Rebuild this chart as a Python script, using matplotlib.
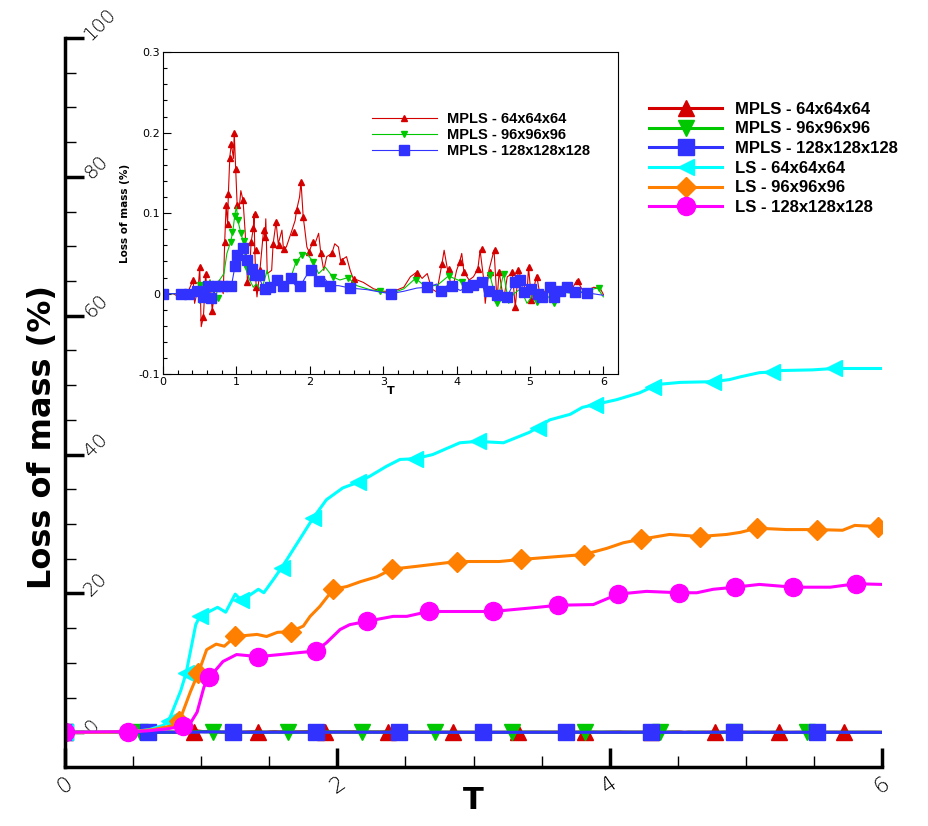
import matplotlib
matplotlib.use("Agg")
import matplotlib.pyplot as plt
from matplotlib.lines import Line2D
from matplotlib.ticker import MultipleLocator
from matplotlib.transforms import ScaledTranslation

# ---- MPLS loss of mass (%) vs T (shown in the inset, ~0 on the main axes)
mpls64_t = [0, 0.14, 0.25, 0.32, 0.41, 0.43, 0.48, 0.50, 0.52, 0.55, 0.58, 0.61, 0.64, 0.67,
            0.71, 0.77, 0.82, 0.84, 0.86, 0.88, 0.89, 0.91, 0.93, 0.96, 0.97, 0.99, 1.01, 1.04,
            1.06, 1.09, 1.12, 1.15, 1.18, 1.20, 1.23, 1.24, 1.25, 1.27, 1.28, 1.32, 1.37, 1.39,
            1.40, 1.42, 1.48, 1.50, 1.54, 1.57, 1.62, 1.64, 1.68, 1.75, 1.80, 1.82, 1.86, 1.88,
            1.91, 1.93, 1.96, 1.99, 2.04, 2.07, 2.12, 2.15, 2.19, 2.23, 2.30, 2.34, 2.39, 2.42,
            2.50, 2.55, 2.59, 2.73, 2.87, 3.00, 3.14, 3.28, 3.37, 3.46, 3.53, 3.60, 3.66, 3.73,
            3.80, 3.83, 3.87, 3.94, 4.00, 4.04, 4.07, 4.10, 4.17, 4.23, 4.29, 4.32, 4.37, 4.39,
            4.44, 4.51, 4.55, 4.58, 4.64, 4.69, 4.76, 4.80, 4.84, 4.89, 4.96, 4.98, 5.02, 5.09,
            5.14, 5.23, 5.33, 5.42, 5.55, 5.64, 5.73, 5.87, 5.96, 6.00]
mpls64_loss = [0, 0, -0.006, -0.002, 0.017, -0.012, 0.008, 0.033, -0.041, -0.029, 0.025, -0.008,
               0.017, -0.021, 0.008, 0.017, 0, 0.064, 0.110, 0.087, 0.124, 0.170, 0.186, 0.168,
               0.200, 0.155, 0.110, 0.108, 0.128, 0.116, 0.075, 0.015, 0.029, 0.064, 0.081, 0.099,
               0.054, 0.006, -0.004, 0.029, 0.079, 0.070, 0.093, 0.025, 0.029, 0.062, 0.089, 0.062,
               0.079, 0.056, 0.058, 0.077, 0.091, 0.104, 0.120, 0.139, 0.095, 0.081, 0.058, 0.052,
               0.064, 0.062, 0.075, 0.050, 0.029, 0.046, 0.050, 0.062, 0.058, 0.041, 0.046, 0.029,
               0.019, 0.014, 0.006, 0.003, 0.003, 0.008, 0.021, 0.027, 0.019, 0.025, 0.006, 0.002,
               0.037, 0.054, 0.033, 0.004, 0.029, 0.039, 0.050, 0.027, 0.017, 0.021, 0.031, 0.054,
               0.017, -0.012, 0.029, 0.054, -0.008, 0.027, -0.008, 0.021, 0.025, -0.017, 0.029,
               0.017, 0, 0.033, -0.008, 0.023, -0.004, 0.006, 0, 0.004, 0.002, 0.017, 0.002, 0.008,
               0.006, -0.001]

mpls96_t = [0, 0.27, 0.36, 0.46, 0.50, 0.55, 0.59, 0.64, 0.71, 0.77, 0.83, 0.87, 0.92, 0.95,
            0.98, 1.00, 1.02, 1.06, 1.09, 1.14, 1.18, 1.23, 1.27, 1.34, 1.42, 1.48, 1.55, 1.64,
            1.73, 1.81, 1.89, 1.96, 2.05, 2.12, 2.21, 2.31, 2.41, 2.52, 2.64, 2.82, 2.96, 3.10,
            3.28, 3.44, 3.56, 3.73, 3.89, 4.07, 4.19, 4.32, 4.46, 4.55, 4.64, 4.71, 4.78, 4.87,
            4.96, 5.05, 5.10, 5.19, 5.33, 5.46, 5.60, 5.73, 5.92, 6.00]
mpls96_loss = [0, 0, 0.004, 0.008, -0.012, 0.012, -0.012, 0.017, -0.008, 0.017, 0.025, 0.050,
               0.064, 0.077, 0.099, 0.108, 0.091, 0.075, 0.066, 0.029, 0.017, 0.008, 0.012, 0.004,
               0.029, 0.002, 0.017, 0.008, 0.017, 0.039, 0.048, 0.050, 0.039, 0.025, 0.033, 0.021,
               0.017, 0.020, 0.010, 0.005, 0.003, 0, 0.006, 0.019, 0.010, 0.010, 0.022, 0.015,
               0.008, 0.012, 0.021, -0.012, 0.025, -0.012, 0, 0.006, -0.012, 0, -0.010, 0.002,
               -0.012, 0.002, 0, 0.003, 0.007, -0.004]

mpls128_t = [0, 0.25, 0.36, 0.46, 0.55, 0.61, 0.66, 0.73, 0.80, 0.86, 0.93, 0.98, 1.00, 1.06,
             1.10, 1.15, 1.21, 1.25, 1.30, 1.37, 1.46, 1.55, 1.64, 1.74, 1.82, 1.87, 1.93, 2.00,
             2.07, 2.12, 2.18, 2.28, 2.39, 2.55, 2.78, 2.96, 3.10, 3.28, 3.46, 3.60, 3.73, 3.79,
             3.87, 3.94, 4.05, 4.14, 4.23, 4.35, 4.39, 4.44, 4.55, 4.69, 4.76, 4.80, 4.86, 4.92,
             5.01, 5.10, 5.17, 5.26, 5.33, 5.39, 5.50, 5.62, 5.78, 6.00]
mpls128_loss = [0, 0, -0.002, 0.002, -0.004, 0.008, -0.005, 0.009, 0.007, 0.008, 0.009, 0.034,
                0.048, 0.060, 0.057, 0.042, 0.031, 0.025, 0.023, 0.006, 0.008, 0.017, 0.010,
                0.019, 0.008, 0.009, 0.019, 0.029, 0.023, 0.016, 0.021, 0.010, 0.010, 0.007,
                0.005, 0.002, 0, 0.003, 0.007, 0.008, 0.012, 0.003, 0.010, 0.009, 0.004, 0.008,
                0.011, 0.014, -0.004, 0.004, -0.002, -0.004, 0.010, 0.014, 0.017, 0.002, 0.006,
                -0.002, -0.003, 0.008, -0.004, 0.003, 0.008, 0.002, 0.001, -0.002]

# symbol positions in the inset
mpls64_sym_t = [0.41, 0.50, 0.55, 0.59, 0.67, 0.84, 0.86, 0.88, 0.89, 0.91, 0.93, 0.97, 0.99, 1.01,
                1.09, 1.15, 1.20, 1.23, 1.25, 1.26, 1.27, 1.32, 1.37, 1.39, 1.50, 1.54, 1.58, 1.65,
                1.78, 1.82, 1.88, 1.91, 1.99, 2.04, 2.15, 2.30, 2.44, 2.60, 3.46, 3.80, 3.89, 4.04,
                4.10, 4.29, 4.35, 4.45, 4.52, 4.58, 4.76, 4.80, 4.84, 4.98, 5.02, 5.09, 5.65]
mpls64_sym_loss = [0.017, 0.033, -0.029, 0.025, -0.021, 0.064, 0.110, 0.087, 0.124, 0.168, 0.186,
                   0.200, 0.155, 0.110, 0.116, 0.015, 0.064, 0.081, 0.099, 0.054, 0.008, 0.029,
                   0.079, 0.070, 0.062, 0.089, 0.060, 0.056, 0.077, 0.104, 0.139, 0.095, 0.052,
                   0.064, 0.050, 0.050, 0.041, 0.018, 0.026, 0.037, 0.031, 0.039, 0.027, 0.031,
                   0.055, 0.027, 0.054, 0.027, 0.027, -0.017, 0.029, 0.033, -0.008, 0.021, 0.016]
mpls96_sym_t = [0.50, 0.75, 0.92, 0.94, 0.98, 1.02, 1.06, 1.10, 1.14, 1.81, 1.90, 2.05, 2.31,
                2.52, 2.96, 3.44, 3.89, 4.07, 4.46, 4.55, 4.65, 5.10, 5.33, 5.94]
mpls96_sym_loss = [0.011, -0.005, 0.064, 0.077, 0.097, 0.091, 0.075, 0.066, 0.031, 0.039, 0.048,
                   0.039, 0.021, 0.020, 0.003, 0.017, 0.022, 0.015, 0.023, -0.011, 0.025, -0.010,
                   -0.012, 0.007]
mpls128_sym_t = [0, 0.25, 0.36, 0.46, 0.55, 0.61, 0.66, 0.73, 0.80, 0.93, 0.98, 1.01, 1.09, 1.15,
                 1.21, 1.25, 1.31, 1.39, 1.46, 1.55, 1.64, 1.74, 1.87, 2.01, 2.12, 2.28, 2.55,
                 3.10, 3.60, 3.79, 3.94, 4.14, 4.23, 4.35, 4.44, 4.55, 4.69, 4.80, 4.86, 4.92,
                 5.01, 5.11, 5.17, 5.27, 5.33, 5.41, 5.50, 5.62, 5.78]
mpls128_sym_loss = [0, 0, 0, 0.003, -0.004, 0.009, -0.005, 0.009, 0.009, 0.009, 0.034, 0.048,
                    0.057, 0.042, 0.031, 0.023, 0.023, 0.006, 0.008, 0.017, 0.010, 0.019, 0.009,
                    0.029, 0.016, 0.010, 0.007, 0, 0.008, 0.003, 0.009, 0.008, 0.011, 0.014,
                    0.003, -0.002, -0.004, 0.014, 0.017, 0.002, 0.006, -0.001, -0.004, 0.008,
                    -0.004, 0.003, 0.008, 0.002, 0.001]

# symbol positions on the main axes
mpls64_main_t = [0, 0.95, 1.42, 1.91, 2.37, 2.85, 3.33, 3.82, 4.30, 4.77, 5.24, 5.72]
mpls64_main_loss = [0, 0, 0, 0, 0, 0, 0, 0, 0, 0, 0, 0]
mpls96_main_t = [0, 0.55, 1.09, 1.64, 2.18, 2.72, 3.28, 3.82, 4.37, 4.91, 5.45]
mpls96_main_loss = [0, 0, 0, 0, 0, 0, 0, 0, 0, 0, 0]
mpls128_main_t = [0, 0.61, 1.23, 1.84, 2.45, 3.07, 3.68, 4.30, 4.91, 5.52]
mpls128_main_loss = [0, 0, 0, 0, 0, 0, 0, 0, 0, 0]

# ---- LS loss of mass (%)
ls64_t = [0, 0.3, 0.5, 0.62, 0.72, 0.76, 0.85, 0.89, 0.96, 0.99, 1.12, 1.18, 1.25, 1.29, 1.33,
          1.42, 1.46, 1.53, 1.59, 1.63, 1.73, 1.82, 1.92, 2.04, 2.15, 2.24, 2.36, 2.46, 2.57,
          2.70, 2.90, 3.03, 3.22, 3.41, 3.47, 3.56, 3.71, 3.80, 3.89, 4.05, 4.22, 4.32, 4.35,
          4.52, 4.76, 4.88, 4.96, 5.10, 5.19, 5.25, 5.49, 5.65, 6.0]
ls64_loss = [0, 0, 0.1, 0.4, 1.0, 1.6, 6.0, 8.6, 15.5, 16.7, 18.0, 17.3, 19.9, 19.1, 19.4, 20.6,
             20.1, 22.0, 23.7, 24.9, 28.0, 30.8, 33.5, 35.2, 36.0, 36.9, 38.3, 39.3, 39.4, 40.0,
             41.7, 41.9, 41.7, 43.2, 43.9, 45.0, 45.8, 46.8, 47.2, 47.9, 48.9, 49.8, 50.1, 50.4,
             50.5, 50.8, 51.2, 51.8, 51.9, 52.1, 52.2, 52.4, 52.4]
ls64_sym_t = [0, 0.76, 0.89, 0.99, 1.29, 1.59, 1.82, 2.15, 2.57, 3.03, 3.47, 3.89, 4.32, 4.76,
              5.19, 5.65]
ls64_sym_loss = [0, 1.6, 8.6, 16.7, 19.1, 23.7, 30.8, 36.0, 39.4, 41.9, 43.9, 47.2, 49.8, 50.5,
                 51.9, 52.4]

ls96_t = [0, 0.3, 0.5, 0.65, 0.8, 0.84, 0.92, 0.98, 1.04, 1.11, 1.17, 1.25, 1.41, 1.48, 1.56,
          1.66, 1.75, 1.80, 1.87, 1.97, 2.07, 2.17, 2.29, 2.40, 2.58, 2.88, 3.19, 3.35, 3.61,
          3.81, 3.98, 4.10, 4.23, 4.44, 4.66, 4.86, 4.96, 5.08, 5.30, 5.52, 5.71, 5.80, 6.0]
ls96_loss = [0, 0, 0.1, 0.4, 1.0, 1.6, 5.8, 8.6, 11.9, 12.7, 12.4, 13.8, 14.1, 13.8, 14.4, 14.5,
             15.3, 16.7, 18.1, 20.6, 21.0, 21.7, 22.4, 23.5, 23.9, 24.6, 24.6, 24.9, 25.3, 25.6,
             26.5, 27.3, 27.8, 28.5, 28.2, 28.5, 28.8, 29.4, 29.2, 29.2, 29.1, 29.8, 29.6]
ls96_sym_t = [0, 0.84, 0.98, 1.25, 1.66, 1.97, 2.40, 2.88, 3.35, 3.81, 4.23, 4.66, 5.08, 5.52,
              5.97]
ls96_sym_loss = [0, 1.6, 8.6, 13.8, 14.5, 20.6, 23.5, 24.6, 24.9, 25.6, 27.8, 28.2, 29.4, 29.2,
                 29.5]

ls128_t = [0, 0.46, 0.6, 0.75, 0.87, 0.92, 0.97, 1.02, 1.06, 1.16, 1.26, 1.42, 1.58, 1.73, 1.84,
           1.92, 2.02, 2.09, 2.22, 2.41, 2.51, 2.67, 3.14, 3.47, 3.62, 3.88, 4.0, 4.06, 4.27,
           4.51, 4.64, 4.76, 4.92, 5.10, 5.35, 5.62, 5.81, 6.0]
ls128_loss = [0, 0.1, 0.2, 0.5, 0.9, 1.3, 2.9, 6.5, 7.9, 10.2, 11.2, 10.9, 11.2, 11.5, 11.7,
              12.9, 14.8, 15.5, 16.0, 16.7, 16.7, 17.4, 17.4, 18.0, 18.3, 18.4, 19.4, 19.9, 20.3,
              20.1, 20.1, 20.6, 20.9, 21.3, 20.9, 20.9, 21.4, 21.3]
ls128_sym_t = [0, 0.46, 0.87, 1.06, 1.42, 1.84, 2.22, 2.67, 3.14, 3.62, 4.06, 4.51, 4.92, 5.35,
               5.81]
ls128_sym_loss = [0, 0.1, 0.9, 7.9, 10.9, 11.7, 16.0, 17.4, 17.4, 18.3, 19.9, 20.1, 20.9, 20.9,
                  21.4]

labels = ["MPLS - 64x64x64", "MPLS - 96x96x96", "MPLS - 128x128x128",
          "LS - 64x64x64", "LS - 96x96x96", "LS - 128x128x128"]
inset_labels = ["MPLS - 64x64x64", "MPLS - 96x96x96", "MPLS - 128x128x128"]

RED, GREEN, BLUE = "#d40000", "#00c800", "#3232ff"
CYAN, ORANGE, MAGENTA = "#00ffff", "#ff8000", "#ff00ff"

fig = plt.figure(figsize=(9.29, 8.26), dpi=100)
ax = fig.add_axes([0.070, 0.0714, 0.8794, 0.8826])

main = [
    (mpls64_t, mpls64_loss, mpls64_main_t, mpls64_main_loss, RED, "^", 11),
    (mpls96_t, mpls96_loss, mpls96_main_t, mpls96_main_loss, GREEN, "v", 11),
    (mpls128_t, mpls128_loss, mpls128_main_t, mpls128_main_loss, BLUE, "s", 11),
    (ls64_t, ls64_loss, ls64_sym_t, ls64_sym_loss, CYAN, "<", 12),
    (ls96_t, ls96_loss, ls96_sym_t, ls96_sym_loss, ORANGE, "D", 10),
    (ls128_t, ls128_loss, ls128_sym_t, ls128_sym_loss, MAGENTA, "o", 13),
]
handles = []
for t, v, st, sv, c, m, ms in main:
    ax.plot(t, v, color=c, lw=2.2)
    ax.plot(st, sv, ls="none", marker=m, ms=ms, color=c, mec=c)
    handles.append(Line2D([], [], color=c, lw=2.2, marker=m, ms=ms, mec=c))

ax.set_xlim(0, 6)
ax.set_ylim(-5, 100)
for s in ["top", "right"]:
    ax.spines[s].set_visible(False)
for s in ["left", "bottom"]:
    ax.spines[s].set_linewidth(2.5)
ax.xaxis.set_major_locator(MultipleLocator(2))
ax.xaxis.set_minor_locator(MultipleLocator(0.5))
ax.yaxis.set_major_locator(MultipleLocator(20))
ax.yaxis.set_minor_locator(MultipleLocator(5))
ax.tick_params(which="major", direction="in", length=14, width=2.5)
ax.tick_params(which="minor", direction="in", length=8, width=1)
ax.tick_params(axis="y", which="major", pad=-11, labelrotation=45, labelsize=14)
ax.tick_params(axis="x", which="major", pad=4, labelrotation=35, labelsize=16)
for lab in ax.get_xticklabels() + ax.get_yticklabels():
    lab.set_fontweight("light")
shift_down = ScaledTranslation(0, -0.06, fig.dpi_scale_trans)
for lab in ax.get_yticklabels():
    lab.set_verticalalignment("bottom")
    lab.set_horizontalalignment("left")
    lab.set_transform(lab.get_transform() + shift_down)
ax.set_xlabel("T", fontsize=22, fontweight="bold", labelpad=-8)
ax.set_ylabel("Loss of mass (%)", fontsize=23, fontweight="bold")
ax.yaxis.set_label_coords(-0.008, 0.453)

fig.legend(handles, labels, loc="upper left", bbox_to_anchor=(0.6897, 0.887), frameon=False,
           prop={"family": "Liberation Sans", "weight": "bold", "size": 12},
           handlelength=4.4, handletextpad=0.75, labelspacing=0.28, borderpad=0, numpoints=1)

# ---- inset
ins = fig.add_axes([0.1755, 0.547, 0.4898, 0.3898])
inset = [
    (mpls64_t, mpls64_loss, mpls64_sym_t, mpls64_sym_loss, RED, "^", 5),
    (mpls96_t, mpls96_loss, mpls96_sym_t, mpls96_sym_loss, GREEN, "v", 5),
    (mpls128_t, mpls128_loss, mpls128_sym_t, mpls128_sym_loss, BLUE, "s", 6.5),
]
ihandles = []
for t, v, st, sv, c, m, ms in inset:
    ins.plot(t, v, color=c, lw=0.8)
    ins.plot(st, sv, ls="none", marker=m, ms=ms, color=c, mec=c)
    ihandles.append(Line2D([], [], color=c, lw=0.8, marker=m, ms=ms, mec=c))
ins.set_xlim(0, 6.2)
ins.set_ylim(-0.1, 0.3)
ins.xaxis.set_major_locator(MultipleLocator(1))
ins.xaxis.set_minor_locator(MultipleLocator(0.2))
ins.yaxis.set_major_locator(MultipleLocator(0.1))
ins.yaxis.set_minor_locator(MultipleLocator(0.02))
ins.tick_params(which="major", direction="in", length=6, width=0.8, labelsize=8, pad=2)
ins.tick_params(which="minor", direction="in", length=3, width=0.8)
for s in ins.spines.values():
    s.set_linewidth(0.8)
ins.set_yticks([-0.1, 0, 0.1, 0.2, 0.3], ["-0.1", "0", "0.1", "0.2", "0.3"])
ins.set_xlabel("T", fontsize=8, fontweight="bold", labelpad=-1)
ins.set_ylabel("Loss of mass (%)", fontsize=7.5, fontweight="bold", labelpad=6)
ins.legend(ihandles, inset_labels, loc="upper left", bbox_to_anchor=(0.444, 0.837),
           frameon=False, prop={"family": "Liberation Sans", "weight": "bold", "size": 10.5},
           handlelength=4.4, handletextpad=0.75, labelspacing=0.15, borderpad=0, numpoints=1)

fig.savefig("out.png", dpi=100)
